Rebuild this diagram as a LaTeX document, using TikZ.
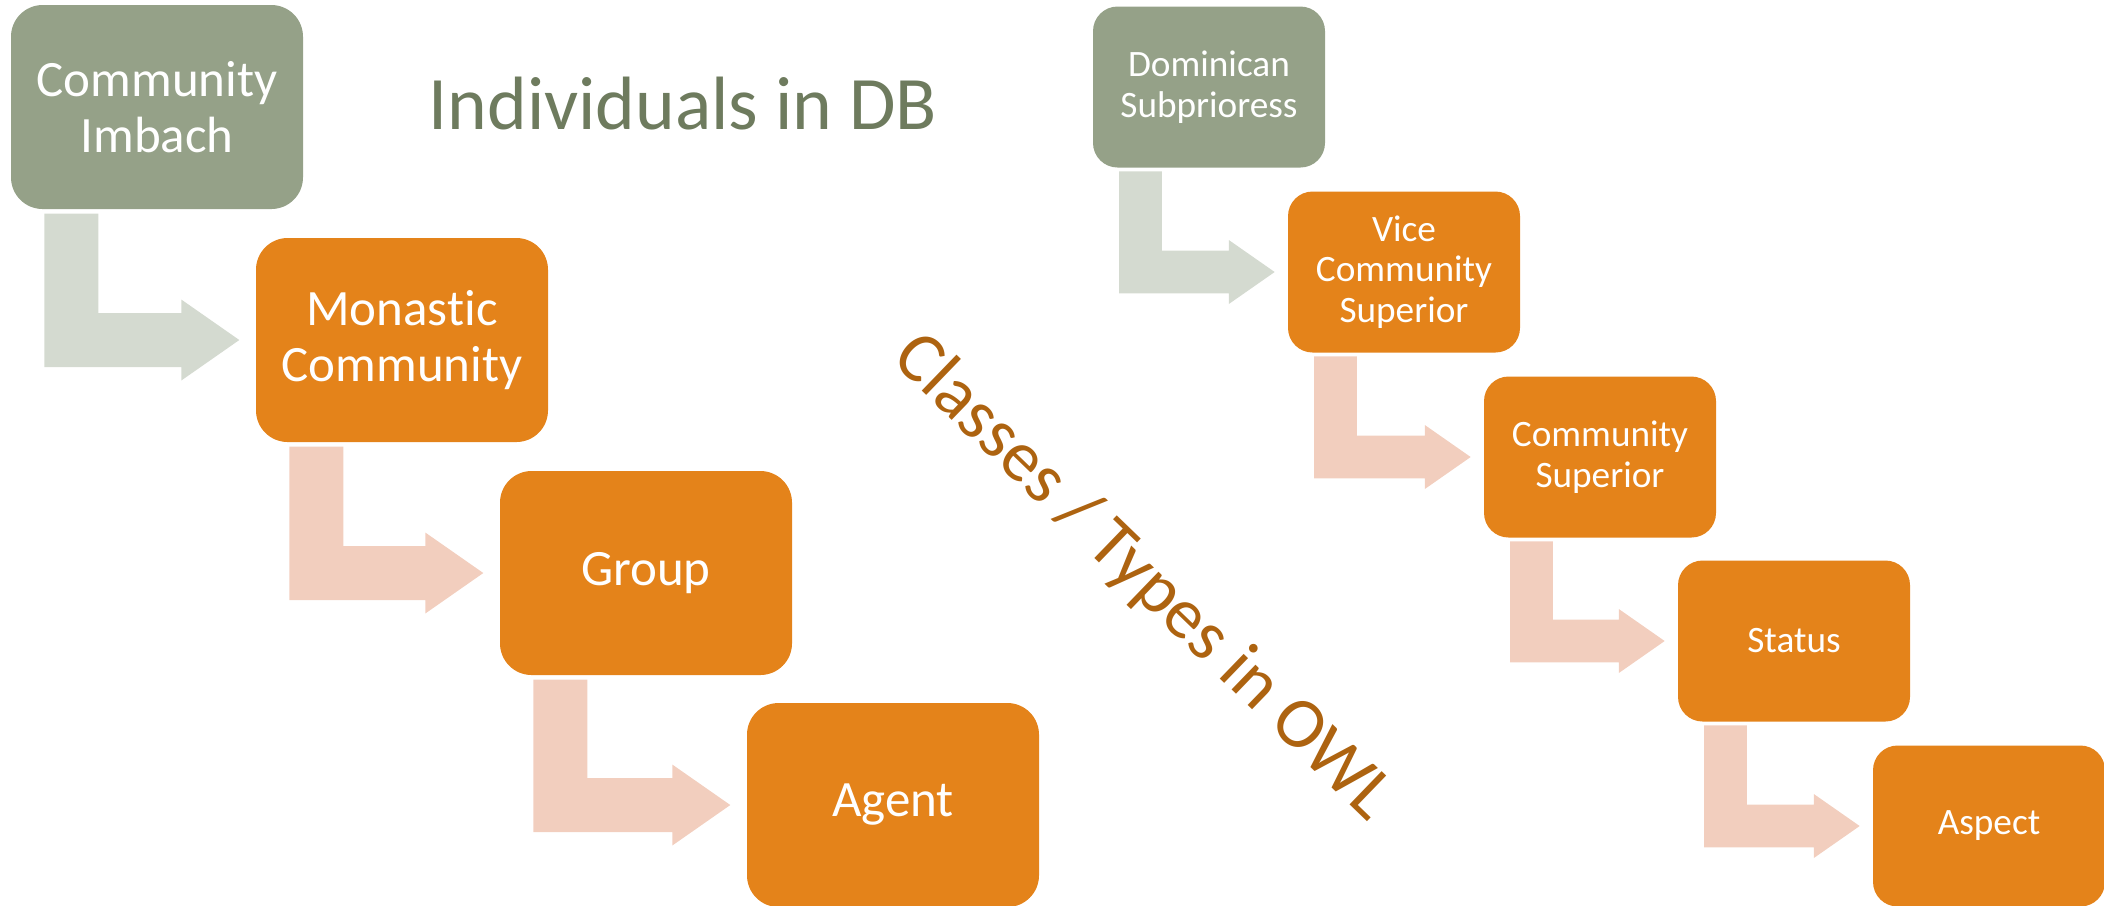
\documentclass[tikz,border=0pt]{standalone}
\usepackage{fontspec}
\setmainfont{Carlito}[Ligatures=NoCommon]
\usetikzlibrary{calc}

\definecolor{sage}{HTML}{95A188}
\definecolor{sagelight}{HTML}{D4DAD0}
\definecolor{dborange}{HTML}{E4831A}
\definecolor{peach}{HTML}{F2CEBE}
\definecolor{sagetext}{HTML}{6E7B5E}
\definecolor{owlbrown}{HTML}{AD6310}

\newcommand{\bentarrow}[4]{%
	\fill[#1] let \p1=(#2.south west), \p2=(#3.west) in
		(\x1+#4*0.34cm,\y1-#4*0.04cm) -- (\x1+#4*0.88cm,\y1-#4*0.04cm)
		-- (\x1+#4*0.88cm,\y2+#4*0.27cm) -- (\x2-#4*0.74cm,\y2+#4*0.27cm)
		-- (\x2-#4*0.74cm,\y2+#4*0.405cm) -- (\x2-#4*0.16cm,\y2)
		-- (\x2-#4*0.74cm,\y2-#4*0.405cm) -- (\x2-#4*0.74cm,\y2-#4*0.27cm)
		-- (\x1+#4*0.34cm,\y2-#4*0.27cm) -- cycle;}

\begin{document}
\begin{tikzpicture}[
		bigbox/.style={rounded corners=9pt, minimum width=2.92cm, minimum height=2.04cm, text=white, align=center, font=\fontsize{14.5}{16}\selectfont},
		smallbox/.style={rounded corners=7pt, minimum width=2.32cm, minimum height=1.61cm, text=white, align=center, font=\fontsize{10.6}{11.6}\selectfont}
	]
	\useasboundingbox (0,0) rectangle (21.04,-9.05);

	\node[bigbox, fill=sage] (imbach) at (1.57,-1.07) {Community\\Imbach};
	\node[bigbox, fill=dborange] (monastic) at (4.02,-3.40) {Monastic\\Community};
	\node[bigbox, fill=dborange] (group) at (6.46,-5.73) {Group};
	\node[bigbox, fill=dborange] (agent) at (8.93,-8.05) {Agent};

	\bentarrow{sagelight}{imbach}{monastic}{1}
	\bentarrow{peach}{monastic}{group}{1}
	\bentarrow{peach}{group}{agent}{1}

	\node[smallbox, fill=sage] (subprioress) at (12.09,-0.87) {Dominican\\Subprioress};
	\node[smallbox, fill=dborange] (vicesup) at (14.04,-2.72) {Vice\\Community\\Superior};
	\node[smallbox, fill=dborange] (commsup) at (16.00,-4.57) {Community\\Superior};
	\node[smallbox, fill=dborange] (status) at (17.94,-6.41) {Status};
	\node[smallbox, fill=dborange] (aspect) at (19.89,-8.26) {Aspect};

	\bentarrow{sagelight}{subprioress}{vicesup}{0.79}
	\bentarrow{peach}{vicesup}{commsup}{0.79}
	\bentarrow{peach}{commsup}{status}{0.79}
	\bentarrow{peach}{status}{aspect}{0.79}

	\node[text=sagetext, anchor=base, font=\fontsize{21.5}{24}\selectfont] (dbtitle) at (6.83,-1.29) {Individuals in DB};
	\node[text=owlbrown, rotate=-44, font=\fontsize{20.5}{24}\selectfont] (owltitle) at (11.43,-5.78) {Classes / Types in OWL};
\end{tikzpicture}
\end{document}
